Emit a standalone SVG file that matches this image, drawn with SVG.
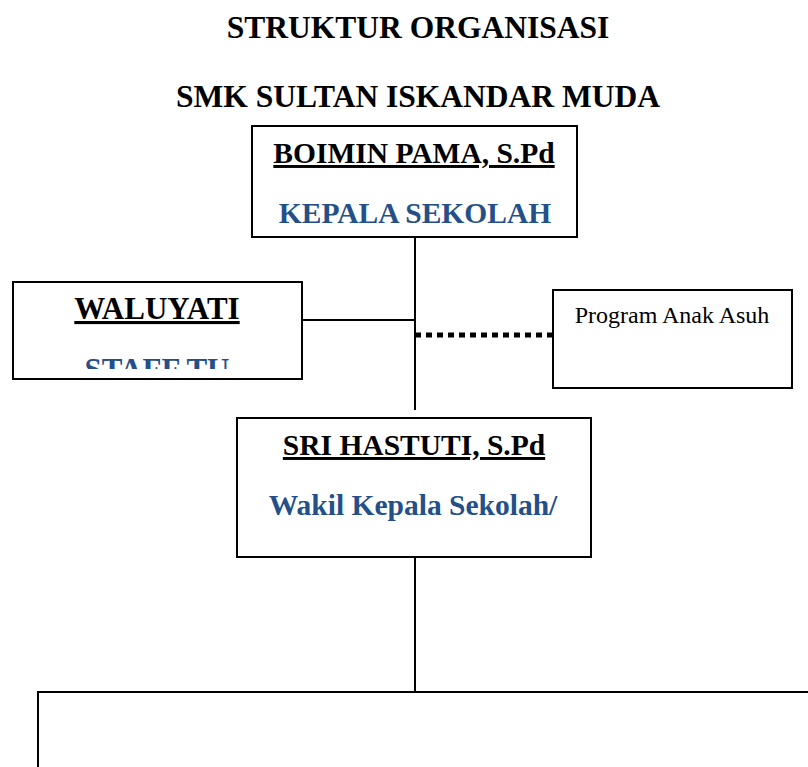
<svg xmlns="http://www.w3.org/2000/svg" width="808" height="767" viewBox="0 0 808 767">
<style>
.box{fill:#fff;stroke:#000;stroke-width:2}
.t{font-family:"Liberation Serif","Times New Roman",serif;text-anchor:middle}
.title{font-size:31.5px;font-weight:bold;fill:#000}
.name{font-size:29.5px;font-weight:bold;fill:#000;text-decoration:underline}
.role{font-size:29.5px;font-weight:bold;fill:#245089}
.plain{font-size:24px;fill:#000}
.ln{stroke:#000;stroke-width:2;fill:none}
</style>
<defs>
<clipPath id="clipW"><rect x="14" y="283" width="287" height="86"/></clipPath>
</defs>
<g id="title">
<text class="t title" x="418" y="38">STRUKTUR ORGANISASI</text>
<text class="t title" x="418" y="107">SMK SULTAN ISKANDAR MUDA</text>
</g>
<g id="connectors">
<line class="ln" x1="415" y1="237" x2="415" y2="410"/>
<line class="ln" x1="302" y1="320" x2="415" y2="320"/>
<line x1="415" y1="335" x2="553" y2="335" stroke="#000" stroke-width="5" stroke-dasharray="6 5"/>
<line class="ln" x1="415" y1="557" x2="415" y2="692"/>
</g>
<g id="kepala">
<rect class="box" x="252" y="126" width="325" height="111"/>
<text class="t name" x="414" y="163">BOIMIN PAMA, S.Pd</text>
<text class="t role" x="415" y="223">KEPALA SEKOLAH</text>
</g>
<g id="waluyati">
<rect class="box" x="13" y="282" width="289" height="97"/>
<text class="t name" x="157" y="319" style="font-size:31px">WALUYATI</text>
<text class="t role" x="157" y="380" style="font-size:31px" clip-path="url(#clipW)">STAFF TU</text>
</g>
<g id="program">
<rect class="box" x="553" y="290" width="239" height="98"/>
<text class="t plain" x="672" y="323">Program Anak Asuh</text>
</g>
<g id="wakil">
<rect class="box" x="237" y="418" width="354" height="139"/>
<text class="t name" x="414" y="455">SRI HASTUTI, S.Pd</text>
<text class="t role" x="413" y="515">Wakil Kepala Sekolah/</text>
</g>
<g id="bottom">
<path class="ln" d="M38 767 V692 H810"/>
</g>
</svg>
